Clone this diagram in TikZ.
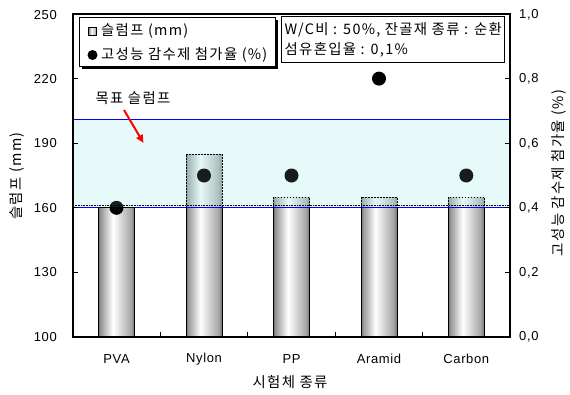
\documentclass[tikz,border=0pt]{standalone}
\usepackage{fontspec}
\setmainfont{Liberation Sans}[LetterSpace=5]
\newfontfamily\kr{Noto Sans CJK KR}[LetterSpace=9]
\usetikzlibrary{arrows.meta}
\pgfdeclarehorizontalshading{barshade}{100bp}{color(0bp)=(black!55); color(25bp)=(black!55); color(28bp)=(black!40); color(45bp)=(white); color(70bp)=(black!35); color(75bp)=(black!55); color(100bp)=(black!55)}
\definecolor{bandfill}{RGB}{190,240,240}
\begin{document}
\begin{tikzpicture}[x=1pt,y=-1pt,
  lbl/.style={font=\fontsize{13}{15}\selectfont, inner sep=0pt},
  krl/.style={font=\kr\fontsize{14.4}{16}\selectfont, inner sep=0pt},
  dotmark/.style={circle, fill=black, inner sep=0pt, minimum size=14pt},
  frame/.style={line width=1.5pt},
  tick/.style={line width=1.2pt},
  barline/.style={line width=0.8pt},
  bartop/.style={line width=0.6pt, dash pattern=on 1.5pt off 1.5pt}]
\useasboundingbox (0,0) rectangle (570,394);
% bars
\foreach \cx/\ty in {116.5/207.8, 204/154, 291.5/197, 379/197, 466.3/197} {
  \shade[shading=barshade] (\cx-18,337) rectangle (\cx+18,\ty);
}
% target band
\fill[bandfill, fill opacity=0.28] (73,119.3) rectangle (510,207.6);
% dots
\node[dotmark] (d1) at (116.5,207.8) {};
\node[dotmark] (d2) at (204,175.5) {};
\node[dotmark] (d3) at (291.5,175.5) {};
\node[dotmark] (d4) at (379,78.6) {};
\node[dotmark] (d5) at (466.3,175.5) {};
\fill[bandfill, fill opacity=0.12] (73,119.3) rectangle (510,207.6);
\draw[densely dotted, line width=0.6pt] (73,205.3) -- (510,205.3);
\draw[blue, line width=0.9pt] (73,119.3) rectangle (510,207.6);
% bar outlines
\draw[barline] (98.5,207.8) rectangle (134.5,337);
\foreach \cx/\ty in {204/154, 291.5/197, 379/197, 466.3/197} {
  \draw[barline] (\cx-18,207.8) -- (\cx-18,337) -- (\cx+18,337) -- (\cx+18,207.8);
  \draw[bartop] (\cx-18,207.8) -- (\cx-18,\ty) -- (\cx+18,\ty) -- (\cx+18,207.8);
}
% frame and ticks
\draw[frame] (73,14) rectangle (510,337);
\foreach \yy in {78.6,143.2,207.8,272.4} {
  \draw[tick] (73,\yy) -- (78,\yy);
  \draw[tick] (505,\yy) -- (510,\yy);
}
\foreach \xx in {160.4,247.8,335.2,422.6} {
  \draw[tick] (\xx,337) -- (\xx,332);
}
% left tick labels
\node[lbl, anchor=east] (l250) at (57,15) {250};
\node[lbl, anchor=east] (l220) at (57,79) {220};
\node[lbl, anchor=east] (l190) at (57,143.5) {190};
\node[lbl, anchor=east] (l160) at (57,208) {160};
\node[lbl, anchor=east] (l130) at (57,272.5) {130};
\node[lbl, anchor=east] (l100) at (57,337) {100};
% right tick labels
\node[lbl, anchor=west] (r10) at (519,15) {1,0};
\node[lbl, anchor=west] (r08) at (519,79) {0,8};
\node[lbl, anchor=west] (r06) at (519,143.5) {0,6};
\node[lbl, anchor=west] (r04) at (519,208) {0,4};
\node[lbl, anchor=west] (r02) at (519,272.5) {0,2};
\node[lbl, anchor=west] (r00) at (519,337) {0,0};
% category labels
\node[lbl] (cPVA) at (116.5,359) {PVA};
\node[lbl] (cNy) at (204,359) {Nylon};
\node[lbl] (cPP) at (291.5,359) {PP};
\node[lbl] (cAr) at (379,359) {Aramid};
\node[lbl] (cCa) at (466.3,359) {Carbon};
% axis titles
\node[krl] (xt) at (290,382) {시험체 종류};
\node[krl, rotate=90] (ylt) at (17,176) {슬럼프 (mm)};
\node[krl, rotate=90] (yrt) at (559,173) {고성능 감수제 첨가율 (\%)};
% legend
\fill[black] (81.5,20) rectangle (277.5,69);
\draw[fill=white, line width=0.6pt] (79,17.7) rectangle (275,66.7);
\node[draw, line width=0.6pt, minimum size=8pt, inner sep=0pt, shading=barshade] (lsq) at (92.5,31) {};
\node[krl, anchor=west] (lt1) at (101,31) {슬럼프 (mm)};
\node[circle, fill=black, inner sep=0pt, minimum size=10pt] (ldot) at (92.5,55) {};
\node[krl, anchor=west] (lt2) at (101,55) {고성능 감수제 첨가율 (\%)};
% condition box
\fill[black] (282.7,17) rectangle (505.3,63.2);
\draw[fill=white, line width=0.6pt] (281.7,16) rectangle (504.3,62);
\node[krl, anchor=west] (ct1) at (284.5,29.5) {W/C비 : 50\%, 잔골재 종류 : 순환};
\node[krl, anchor=west] (ct2) at (284.5,50) {섬유혼입율 : 0,1\%};
% target slump annotation
\node[krl] (tgt) at (133,98) {목표 슬럼프};
\coordinate (aS) at (124,110);
\coordinate (aE) at (143.5,143);
\draw[red, line width=2pt, -{Triangle[length=8pt,width=7pt]}] (aS) -- (aE);
\end{tikzpicture}
\end{document}
